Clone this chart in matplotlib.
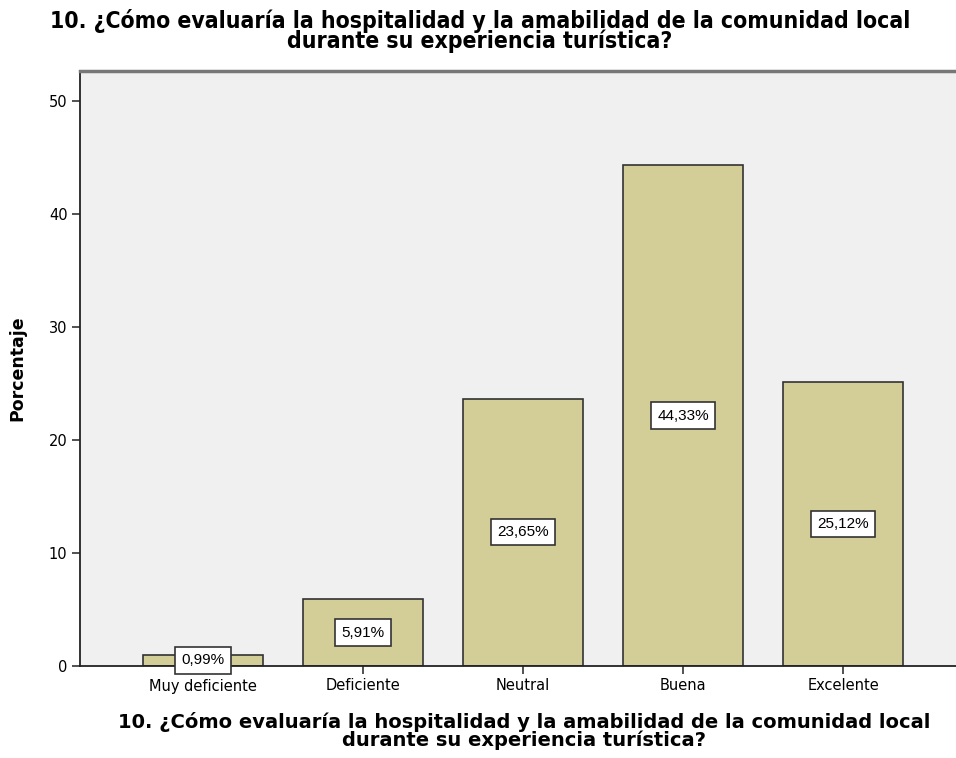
import matplotlib
matplotlib.use("Agg")
from matplotlib import pyplot as plt

categorias = ['Muy deficiente', 'Deficiente', 'Neutral', 'Buena', 'Excelente']
porcentajes = [0.99, 5.91, 23.65, 44.33, 25.12]
etiquetas = ['0,99%', '5,91%', '23,65%', '44,33%', '25,12%']
yticks = [0, 10, 20, 30, 40, 50]

titulo = '10. ¿Cómo evaluaría la hospitalidad y la amabilidad de la comunidad local\ndurante su experiencia turística?'

fig = plt.figure(figsize=(9.56, 7.58), dpi=100)
ax = fig.add_axes([80/956, 92/758, 876/956, 595/758])
ax.set_facecolor('#f0f0f0')

x = list(range(len(categorias)))
ax.bar(x, porcentajes, width=0.75, color='#d3ce97', edgecolor='#333333', linewidth=1.2, zorder=2)

for xi, v, t in zip(x, porcentajes, etiquetas):
    ax.text(xi, v/2, t, ha='center', va='center', fontsize=11, family='Liberation Sans',
            bbox=dict(boxstyle='square,pad=0.4', facecolor='white', edgecolor='#333333', linewidth=1.2),
            zorder=3)

ax.set_xlim(-0.769, 4.706)
ax.set_ylim(0, 52.65)
ax.set_xticks(x)
ax.set_xticklabels(categorias, fontsize=10.5, family='DejaVu Sans')
ax.set_yticks(yticks)
ax.set_yticklabels([str(t) for t in yticks], fontsize=10.5, family='DejaVu Sans')
ax.tick_params(axis='both', direction='out', length=6, width=1.2, color='#333333', pad=3)

for s in ['left', 'bottom']:
    ax.spines[s].set_color('#222222')
    ax.spines[s].set_linewidth(1.3)
ax.spines['top'].set_color('#777777')
ax.spines['top'].set_linewidth(2.5)
ax.spines['right'].set_visible(False)

ax.set_ylabel('Porcentaje', fontsize=12.5, fontweight='bold', family='DejaVu Sans', labelpad=16)

fig.text(0.502, 1 - 31/758, titulo, ha='center', va='center', fontsize=16.5, fontweight='bold',
         family='DejaVu Sans', fontstretch='condensed', linespacing=0.8)
fig.text(0.548, 1 - 731/758, titulo, ha='center', va='center', fontsize=14, fontweight='bold',
         family='DejaVu Sans', linespacing=0.85)

fig.savefig('out.png', dpi=100)
